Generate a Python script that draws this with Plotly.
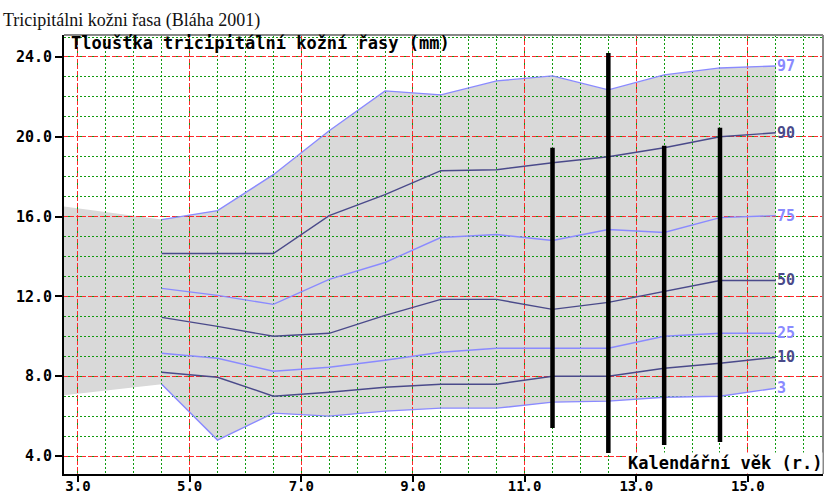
import plotly.graph_objects as go

# ---- data ----
ages = [4.5, 5.5, 6.5, 7.5, 8.5, 9.5, 10.5, 11.5, 12.5, 13.5, 14.5, 15.5]
p97 = [15.85, 16.3, 18.1, 20.3, 22.3, 22.1, 22.8, 23.05, 22.35, 23.1, 23.45, 23.55]
p90 = [14.15, 14.15, 14.15, 16.05, 17.1, 18.3, 18.35, 18.7, 19.0, 19.45, 20.0, 20.2]
p75 = [12.4, 12.05, 11.6, 12.85, 13.7, 14.95, 15.1, 14.8, 15.35, 15.2, 15.95, 16.05]
p50 = [10.95, 10.5, 10.0, 10.15, 11.05, 11.85, 11.85, 11.35, 11.7, 12.25, 12.8, 12.8]
p25 = [9.15, 8.9, 8.25, 8.45, 8.8, 9.2, 9.4, 9.4, 9.4, 10.0, 10.15, 10.15]
p10 = [8.2, 7.95, 7.0, 7.2, 7.45, 7.6, 7.6, 8.0, 8.0, 8.4, 8.65, 8.95]
p3 = [7.6, 4.8, 6.15, 6.0, 6.25, 6.4, 6.4, 6.7, 6.75, 6.95, 7.0, 7.4]

# band extension at the left edge of the chart
left_age = [2.75]
left_top = [16.5]
left_bottom = [7.05]

# measured individual values (vertical bars)
bar_age = [11.5, 12.5, 13.5, 14.5]
bar_top = [19.45, 24.2, 19.55, 20.45]
bar_bottom = [5.4, 4.15, 4.55, 4.7]

x_ticks = [3, 5, 7, 9, 11, 13, 15]
y_ticks = [4, 8, 12, 16, 20, 24]

title_text = "Tricipitálni kožni řasa (Bláha 2001)"
y_title = "Tloušťka tricipitální kožní řasy (mm)"
x_title = "Kalendářní věk (r.)"

LIGHT = "#8a8aff"
DARK = "#4a4a8a"
MONO = "DejaVu Sans Mono"
GREEN = "#109a10"
RED = "#ff2a2a"

series = [("97", p97, LIGHT), ("90", p90, DARK), ("75", p75, LIGHT),
          ("50", p50, DARK), ("25", p25, LIGHT), ("10", p10, DARK), ("3", p3, LIGHT)]

fig = go.Figure()

# gray band as a path below gridlines
top_x = left_age + ages
top_y = left_top + p97
bot_x = list(reversed(left_age + ages))
bot_y = list(reversed(left_bottom + p3))
pts = list(zip(top_x + bot_x, top_y + bot_y))
path = "M " + " L ".join(f"{x},{y}" for x, y in pts) + " Z"
fig.add_shape(type="path", path=path, xref="x", yref="y", layer="below",
              fillcolor="#d9d9d9", line=dict(width=0))

for name, vals, col in series:
    fig.add_trace(go.Scatter(x=ages, y=vals, mode="lines",
                             line=dict(color=col, width=1.4),
                             hoverinfo="skip", showlegend=False))
    fig.add_annotation(x=ages[-1], y=vals[-1], xref="x", yref="y",
                       text=name, showarrow=False, xanchor="left", yanchor="middle",
                       xshift=-1,
                       font=dict(family=MONO, size=15, color=col, weight="bold"))

bx, by = [], []
for a, t, b in zip(bar_age, bar_top, bar_bottom):
    bx += [a, a, None]
    by += [b, t, None]
fig.add_trace(go.Scatter(x=bx, y=by, mode="lines", line=dict(color="black", width=4.5),
                         hoverinfo="skip", showlegend=False))

tickfont = dict(family=MONO, size=15, color="black", weight="bold")

fig.update_xaxes(range=[2.75, 16.345], tickvals=x_ticks,
                 ticktext=[f"{v:.1f}" for v in x_ticks],
                 showgrid=True, gridcolor=RED, griddash="4px,2px", gridwidth=1,
                 minor=dict(dtick=0.5, tick0=3, showgrid=True, gridcolor=GREEN,
                            griddash="2px,2px", gridwidth=1, ticks=""),
                 showline=True, linecolor="black", linewidth=2,
                 ticks="outside", ticklen=6, tickwidth=1.5, tickcolor="black",
                 ticklabelstandoff=-8,
                 tickfont=dict(family=MONO, size=14, color="black", weight="bold"),
                 zeroline=False, automargin=False)
fig.update_yaxes(range=[3.1, 25.1], tickvals=y_ticks,
                 ticktext=[f"{v:.1f}" for v in y_ticks],
                 showgrid=True, gridcolor=RED, griddash="4px,2px", gridwidth=1,
                 minor=dict(dtick=1, tick0=4, showgrid=True, gridcolor=GREEN,
                            griddash="2px,2px", gridwidth=1, ticks=""),
                 showline=True, linecolor="black", linewidth=2,
                 ticks="outside", ticklen=7, tickwidth=2, tickcolor="black",
                 tickfont=tickfont, zeroline=False, automargin=False)

# top and right border of the plot box
fig.add_shape(type="line", xref="paper", yref="paper", x0=0, x1=1, y0=1, y1=1,
              line=dict(color="#888888", width=2), layer="above")
fig.add_shape(type="line", xref="paper", yref="paper", x0=1, x1=1, y0=0, y1=1,
              line=dict(color="#888888", width=2), layer="above")

fig.add_annotation(xref="paper", yref="paper", x=5 / 759, y=1 - 8 / 439,
                   text=y_title, showarrow=False, xanchor="left", yanchor="middle",
                   font=dict(family=MONO, size=17, color="black", weight="bold"))
fig.add_annotation(xref="paper", yref="paper", x=1, y=11 / 439,
                   text=x_title, showarrow=False, xanchor="right", yanchor="middle",
                   bgcolor="white", borderpad=0,
                   font=dict(family=MONO, size=17, color="black", weight="bold"))

fig.update_layout(
    width=825, height=495,
    margin=dict(l=64, r=2, t=35, b=21, autoexpand=False),
    paper_bgcolor="white", plot_bgcolor="white",
    title=dict(text=title_text, x=3 / 825, xref="container", xanchor="left",
               y=1 - 20 / 495, yref="container", yanchor="middle",
               font=dict(family="Liberation Serif", size=18, color="#111111")),
    showlegend=False,
)

fig.write_html("out.html")
